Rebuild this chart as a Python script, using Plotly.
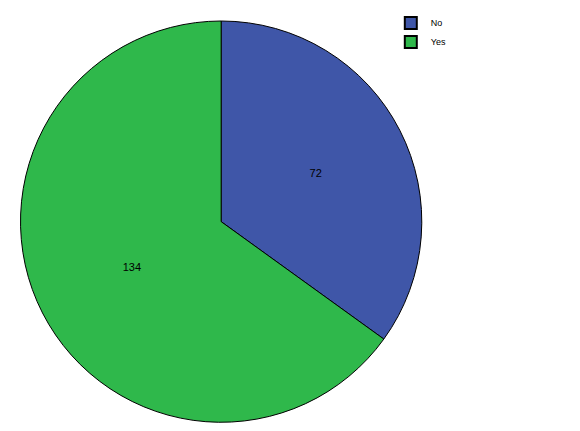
import plotly.graph_objects as go

labels = ["No", "Yes"]
counts = [72, 134]
colors = ["#3f56a8", "#2fb84b"]

fig = go.Figure(go.Pie(
    labels=labels,
    values=counts,
    sort=False,
    direction="clockwise",
    rotation=0,
    marker=dict(colors=colors, line=dict(color="black", width=1)),
    textinfo="value",
    textposition="inside",
    insidetextorientation="horizontal",
    textfont=dict(family="Liberation Sans", size=11, color="black"),
    domain=dict(x=[0.0, 0.735], y=[0.04, 1.0]),
    hoverinfo="label+value",
))

fig.update_layout(
    width=580, height=431,
    margin=dict(l=0, r=0, t=0, b=0),
    paper_bgcolor="white",
    font=dict(family="Liberation Sans", size=9, color="black"),
    legend=dict(x=0.66, y=1.03, xanchor="left", yanchor="top",
                font=dict(size=9), itemsizing="constant",
                tracegroupgap=0, bgcolor="rgba(0,0,0,0)"),
)

fig.write_html("out.html")
